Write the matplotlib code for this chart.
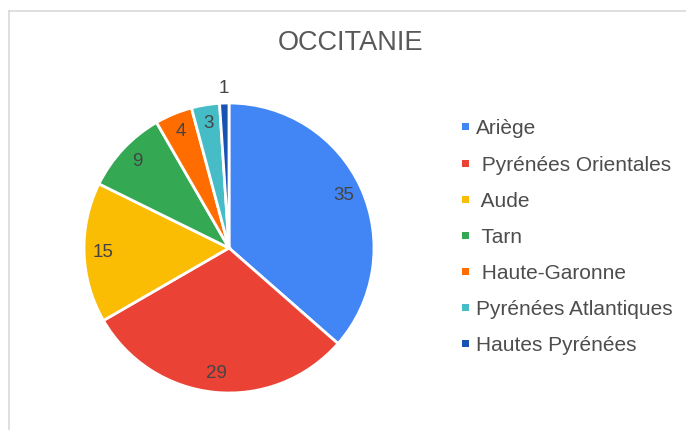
import matplotlib
matplotlib.use("Agg")
from matplotlib import pyplot as plt
from matplotlib.lines import Line2D
from matplotlib.patches import Rectangle
import numpy as np

plt.rcParams['font.family'] = ['Liberation Sans', 'DejaVu Sans']

title = "OCCITANIE"
labels = ["Ariège", " Pyrénées Orientales", " Aude", " Tarn", " Haute-Garonne",
          "Pyrénées Atlantiques", "Hautes Pyrénées"]
values = [35, 29, 15, 9, 4, 3, 1]
colors = ["#4285F4", "#EA4335", "#FBBC04", "#34A853", "#FF6D01", "#46BDC6", "#1A52B4"]

W, H = 686, 430
fig = plt.figure(figsize=(W / 100, H / 100), dpi=100)

# pie centre / radius in pixels
cx, cy, r = 229, 248, 145
ax = fig.add_axes([(cx - r) / W, (H - cy - r) / H, 2 * r / W, 2 * r / H])
wedges, _ = ax.pie(values, colors=colors, startangle=90, counterclock=False,
                   radius=1, wedgeprops=dict(edgecolor="white", linewidth=2))
ax.set_xlim(-1, 1)
ax.set_ylim(-1, 1)
ax.set_aspect("equal")
ax.axis("off")

total = sum(values)
for w, v in zip(wedges, values):
    ang = np.deg2rad((w.theta1 + w.theta2) / 2)
    d = 1.10 if v / total < 0.02 else 0.87
    ax.text(d * np.cos(ang), d * np.sin(ang), str(v), ha="center", va="center",
            fontsize=13.5, color="#444444", clip_on=False)

fig.text(351 / W, 1 - 43 / H, title, ha="center", va="center",
         fontsize=19.5, color="#595959")

# legend
for i, (lab, c) in enumerate(zip(labels, colors)):
    y = 1 - (127 + i * 36.1) / H
    fig.patches.append(Rectangle((462 / W, y - 3.5 / H), 7 / W, 7 / H,
                                 transform=fig.transFigure, facecolor=c,
                                 edgecolor="none"))
    fig.text(476 / W, y, lab, ha="left", va="center_baseline",
             fontsize=15, color="#4d4d4d")

# frame lines (left and top only)
fig.add_artist(Line2D([8.5 / W, 8.5 / W], [0, 1 - 10.5 / H],
                      transform=fig.transFigure, color="#d9d9d9", lw=1.2))
fig.add_artist(Line2D([8.5 / W, 1], [1 - 10.5 / H, 1 - 10.5 / H],
                      transform=fig.transFigure, color="#d9d9d9", lw=1.2))

fig.savefig("out.png", dpi=100, facecolor="white")
